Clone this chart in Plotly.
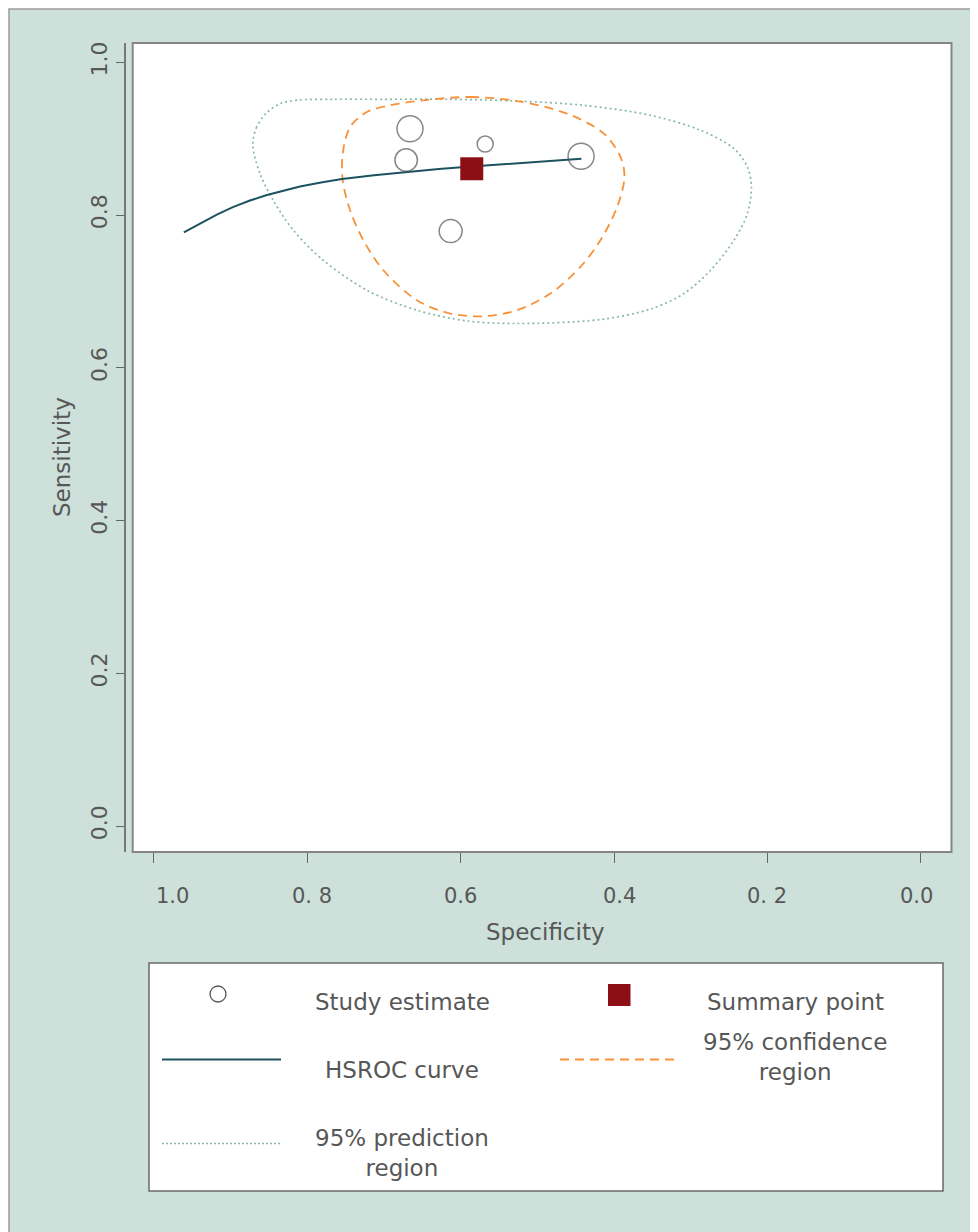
import plotly.graph_objects as go

# ---------------- data ----------------
study_spec = [0.666, 0.671, 0.568, 0.443, 0.613]
study_sens = [0.913, 0.872, 0.893, 0.877, 0.779]
study_weight = [68, 51, 26, 68, 53]

summary_spec = [0.5855]
summary_sens = [0.8606]

hsroc_spec = [0.9608, 0.9399, 0.9178, 0.8969, 0.8747, 0.8525, 0.8310, 0.8094, 0.7820, 0.7546,
              0.7128, 0.6710, 0.6286, 0.5862, 0.5144, 0.4426]
hsroc_sens = [0.7774, 0.7889, 0.8007, 0.8105, 0.8190, 0.8262, 0.8322, 0.8374, 0.8427, 0.8472,
              0.8521, 0.8564, 0.8602, 0.8636, 0.8689, 0.8738]

conf_spec = [0.6484, 0.5875, 0.5265, 0.4612, 0.4134, 0.3916, 0.3864, 0.3960, 0.4178,
             0.4439, 0.4830, 0.5265, 0.5701, 0.6136, 0.6571, 0.7007, 0.7268, 0.7441,
             0.7537, 0.7537, 0.7441, 0.7223, 0.6919, 0.6484]
conf_sens = [0.9503, 0.9546, 0.9493, 0.9329, 0.9067, 0.8760, 0.8499, 0.8106, 0.7670,
             0.7321, 0.6972, 0.6754, 0.6675, 0.6711, 0.6885, 0.7277, 0.7670, 0.8063,
             0.8455, 0.8805, 0.9153, 0.9349, 0.9437, 0.9503]

pred_spec = [0.8708, 0.8663, 0.8535, 0.8345, 0.8120, 0.7659, 0.7007, 0.6136, 0.5265, 0.4396,
             0.3525, 0.2872, 0.2437, 0.2262, 0.2210, 0.2262, 0.2437, 0.2742, 0.3090,
             0.3525, 0.4178, 0.5265, 0.5918, 0.6571, 0.7223, 0.7790, 0.8181, 0.8443,
             0.8616, 0.8708]
pred_sens = [0.8917, 0.9142, 0.9334, 0.9462, 0.9506, 0.9516, 0.9516, 0.9516, 0.9493, 0.9437,
             0.9306, 0.9110, 0.8870, 0.8630, 0.8368, 0.8020, 0.7670, 0.7277, 0.6972,
             0.6770, 0.6632, 0.6580, 0.6614, 0.6754, 0.7016, 0.7408, 0.7801, 0.8194,
             0.8543, 0.8917]

tick_vals = [1.0, 0.8, 0.6, 0.4, 0.2, 0.0]
x_tick_text = ["1.0", "0. 8", "0.6", "0.4", "0. 2", "0.0"]
y_tick_text = ["1.0", "0.8", "0.6", "0.4", "0.2", "0.0"]

legend_labels = ["Study estimate", "Summary point", "HSROC curve",
                 "95% confidence<br>region", "95% prediction<br>region"]

# ---------------- styles ----------------
BG = "#cde0da"
TXT = "#575757"
FONT = "DejaVu Sans"
C_CIRCLE = "#555555"
C_SUM = "#8c0f16"
C_HSROC = "#1d5361"
C_CONF = "#f7923a"
C_PRED = "#89b8aa"

# the page body adds an 8px margin; the figure is sized so it ends at 978x1232
BODY = 8
W, H = 978 - BODY, 1232 - BODY
ML, MR, MT, MB = 126 - BODY, 26, 43 - BODY, 380
PW = W - ML - MR
PH = H - MT - MB


def px(xp):  # page pixel -> paper
    return (xp - BODY - ML) / PW


def py(yp):
    return (BODY + H - MB - yp) / PH


fig = go.Figure()

fig.add_trace(go.Scatter(x=pred_spec, y=pred_sens, mode="lines",
                         line=dict(color=C_PRED, width=1.7, dash="2px,3px", shape="spline", smoothing=0.9),
                         hoverinfo="skip", showlegend=False))
fig.add_trace(go.Scatter(x=conf_spec, y=conf_sens, mode="lines",
                         line=dict(color=C_CONF, width=1.8, dash="9px,6px", shape="spline", smoothing=0.9),
                         hoverinfo="skip", showlegend=False))
fig.add_trace(go.Scatter(x=hsroc_spec, y=hsroc_sens, mode="lines",
                         line=dict(color=C_HSROC, width=2, shape="linear"),
                         hoverinfo="skip", showlegend=False))
maxw = max(study_weight)
fig.add_trace(go.Scatter(x=study_spec, y=study_sens, mode="markers",
                         marker=dict(size=study_weight, sizemode="area", sizeref=2 * maxw / (26 ** 2),
                                     color="rgba(0,0,0,0)", line=dict(color=C_CIRCLE, width=1.5)),
                         showlegend=False))
fig.add_trace(go.Scatter(x=summary_spec, y=summary_sens, mode="markers",
                         marker=dict(symbol="square", size=23, color=C_SUM, line=dict(width=0)),
                         showlegend=False))

shapes = [
    dict(type="rect", xref="paper", yref="paper", x0=px(9), x1=px(995), y0=py(1250), y1=py(9),
         fillcolor=BG, line=dict(color="#9c9c9c", width=1.5), layer="below"),
    dict(type="rect", xref="paper", yref="paper", x0=px(132.7), x1=px(951.5), y0=py(852), y1=py(43),
         fillcolor="white", line=dict(color="#858585", width=2), layer="below"),
    # legend box
    dict(type="rect", xref="paper", yref="paper", x0=px(149), x1=px(943), y0=py(1191), y1=py(963),
         fillcolor="white", line=dict(color="#6a6a6a", width=1.5), layer="below"),
    # legend symbols
    dict(type="circle", xref="paper", yref="paper", x0=px(210), x1=px(226), y0=py(1002), y1=py(986),
         line=dict(color=C_CIRCLE, width=1.3), layer="above"),
    dict(type="rect", xref="paper", yref="paper", x0=px(608), x1=px(630.5), y0=py(1006), y1=py(984),
         fillcolor=C_SUM, line=dict(width=0), layer="above"),
    dict(type="line", xref="paper", yref="paper", x0=px(162), x1=px(281), y0=py(1059.5), y1=py(1059.5),
         line=dict(color=C_HSROC, width=2), layer="above"),
    dict(type="line", xref="paper", yref="paper", x0=px(560), x1=px(679), y0=py(1059.5), y1=py(1059.5),
         line=dict(color=C_CONF, width=1.8, dash="9px,6px"), layer="above"),
    dict(type="line", xref="paper", yref="paper", x0=px(162), x1=px(281), y0=py(1143.5), y1=py(1143.5),
         line=dict(color=C_PRED, width=1.5, dash="2px,2px"), layer="above"),
]

annotations = []
x_shift = [19, 5, 0, 5, -1, -4]
for v, t, s in zip(tick_vals, x_tick_text, x_shift):
    annotations.append(dict(x=v, y=py(896), xref="x", yref="paper", text=t, showarrow=False,
                            xanchor="center", yanchor="middle", xshift=s,
                            font=dict(family=FONT, size=21, color=TXT)))
annotations.append(dict(x=px(545), y=py(932), xref="paper", yref="paper", text="Specificity",
                        showarrow=False, xanchor="center", yanchor="middle",
                        font=dict(family=FONT, size=23, color=TXT)))
annotations.append(dict(x=px(62), y=py(457), xref="paper", yref="paper", text="Sensitivity",
                        showarrow=False, xanchor="center", yanchor="middle", textangle=-90,
                        font=dict(family=FONT, size=23, color=TXT)))

legend_pos = [(402, 1002), (795, 1002), (402, 1070), (795, 1057), (402, 1153)]
for lab, (lx, ly) in zip(legend_labels, legend_pos):
    annotations.append(dict(x=px(lx), y=py(ly), xref="paper", yref="paper", text=lab,
                            showarrow=False, xanchor="center", yanchor="middle", align="center",
                            font=dict(family=FONT, size=23, color=TXT)))

fig.update_layout(
    width=W, height=H,
    margin=dict(l=ML, r=MR, t=MT, b=MB, pad=0),
    paper_bgcolor="white",
    plot_bgcolor="rgba(0,0,0,0)",
    showlegend=False,
    shapes=shapes,
    annotations=annotations,
    xaxis=dict(range=[1.0362, -0.0405], tickvals=tick_vals, showticklabels=False,
               ticks="outside", ticklen=10, tickwidth=1.3, tickcolor="#666666",
               showline=False, showgrid=False, zeroline=False, fixedrange=True),
    yaxis=dict(range=[-0.034, 1.0253], tickvals=tick_vals, ticktext=y_tick_text,
               tickangle=-90, ticks="outside", ticklen=8, tickwidth=1.3, tickcolor="#666666",
               showline=True, linecolor="#777777", linewidth=1.5,
               tickfont=dict(family=FONT, size=22, color=TXT),
               showgrid=False, zeroline=False, fixedrange=True),
)

fig.write_html("out.html")
